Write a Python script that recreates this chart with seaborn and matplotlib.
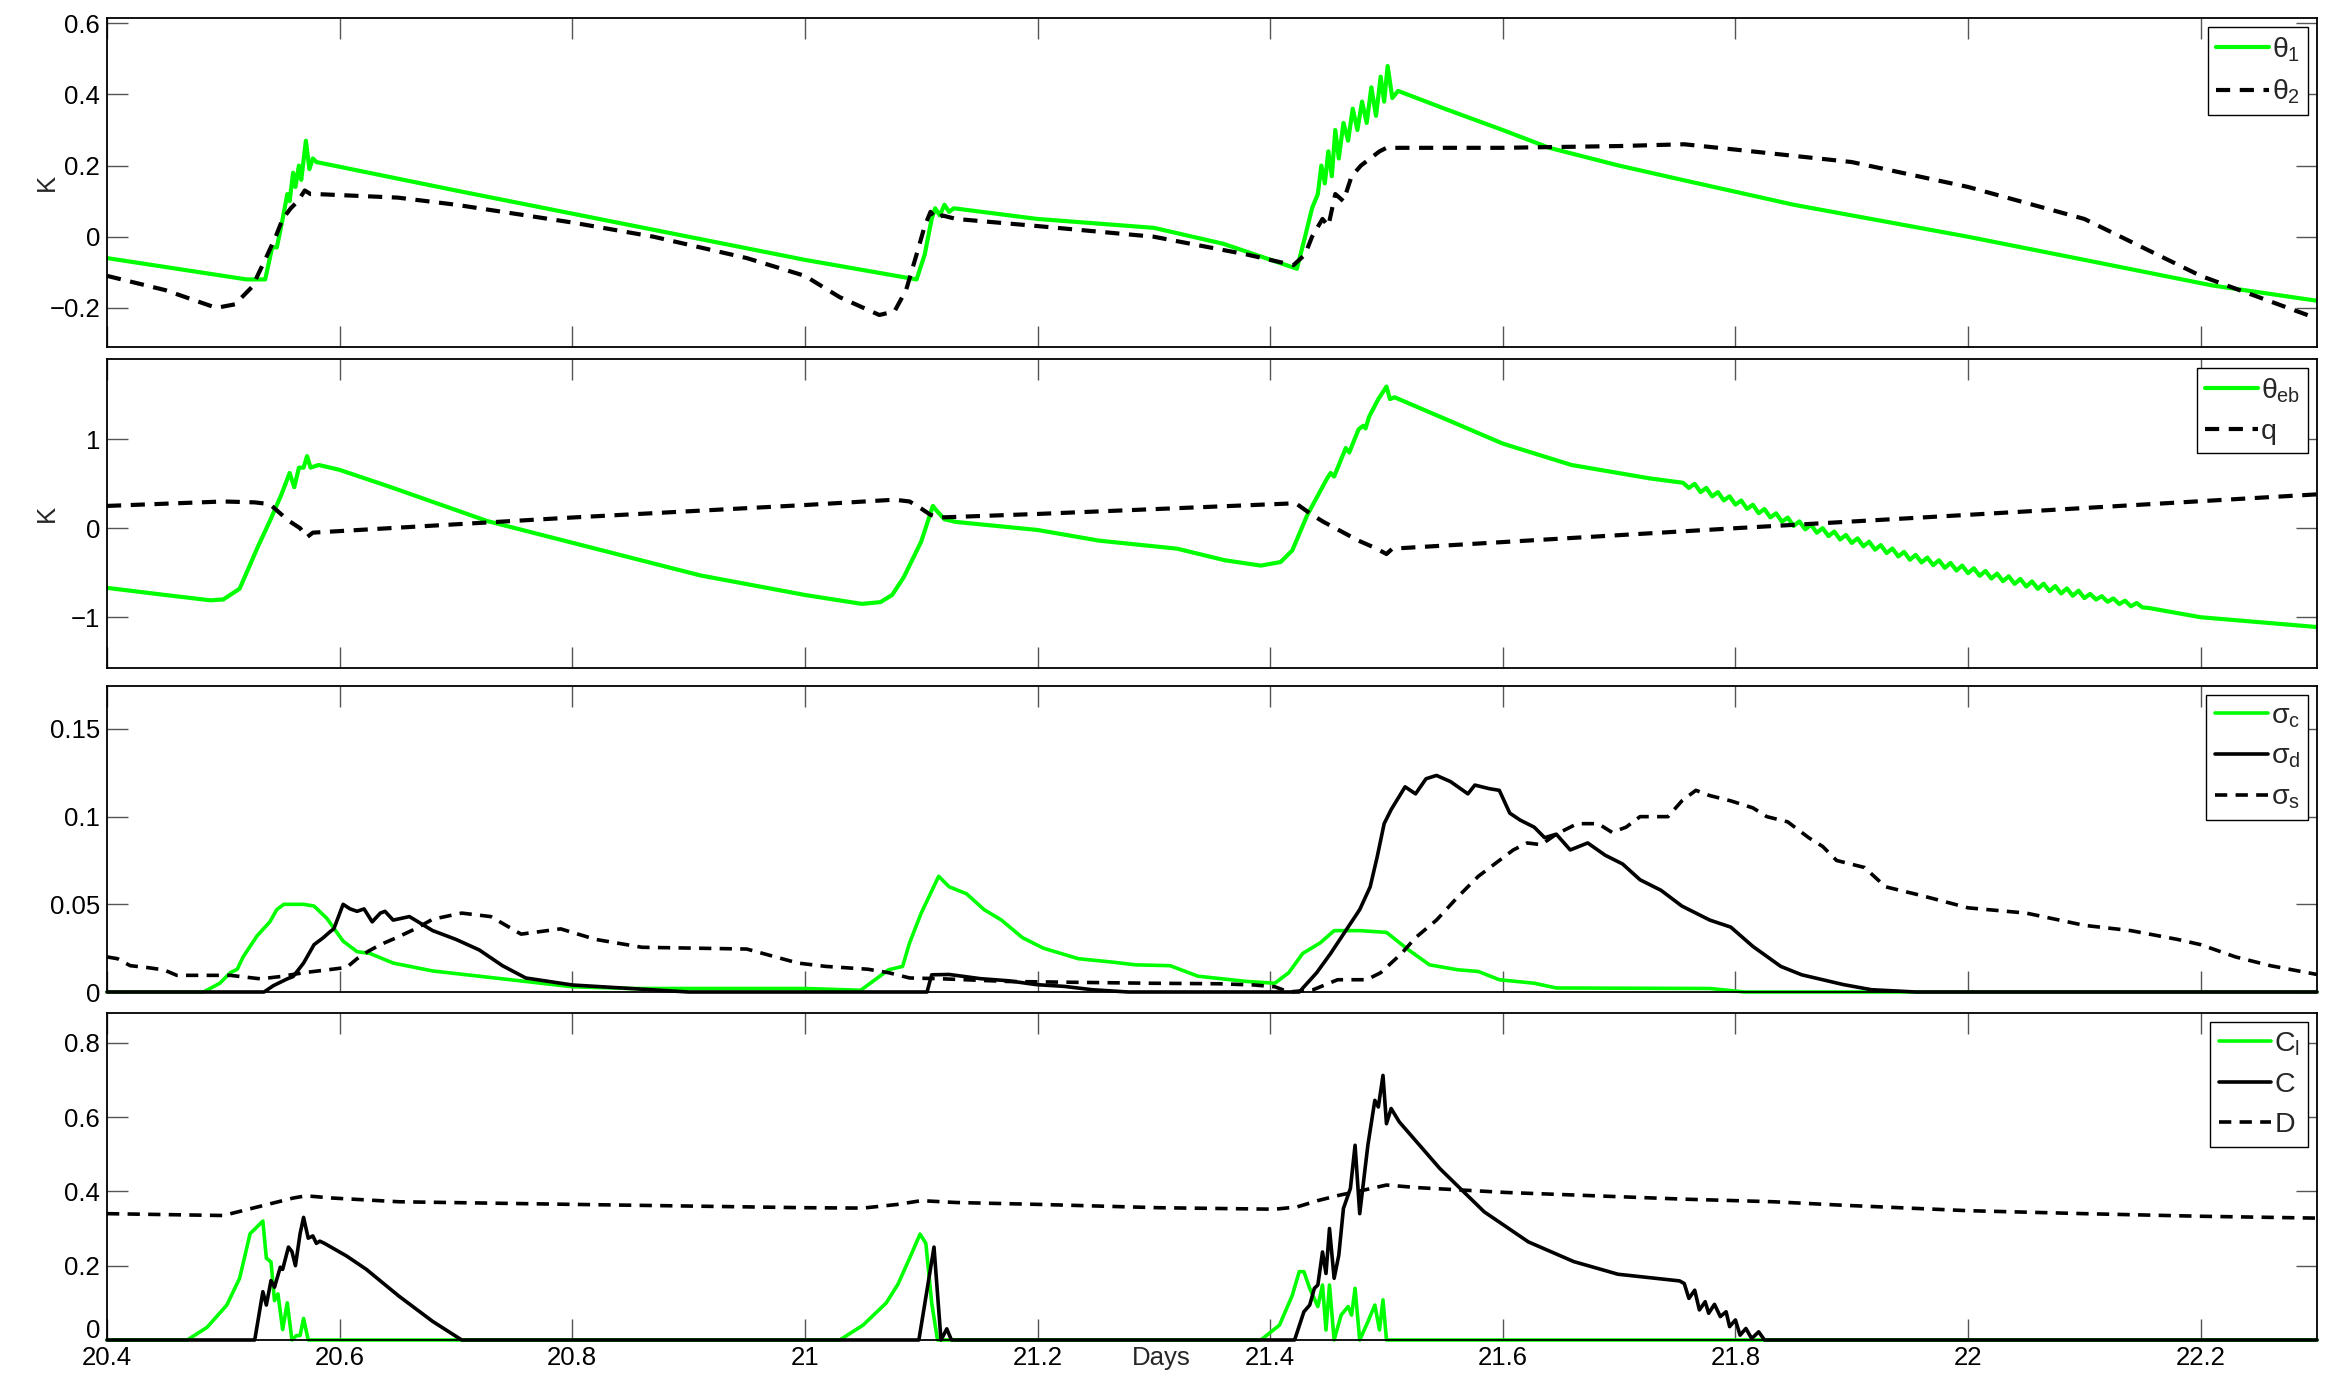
import matplotlib
matplotlib.use("Agg")
import matplotlib.pyplot as plt
import seaborn as sns
from matplotlib.ticker import FixedLocator, FuncFormatter
from matplotlib.transforms import ScaledTranslation

# ---------------- data (days, values) ----------------
th1_t = [20.40, 20.45, 20.50, 20.52, 20.536, 20.542, 20.546, 20.551, 20.555, 20.557, 20.560, 20.562, 20.565, 20.567, 20.571, 20.574, 20.577, 20.58,
         20.7, 20.8, 20.9, 21.0, 21.096,
         21.103, 21.109, 21.112, 21.116, 21.12, 21.124, 21.128, 21.2, 21.3, 21.36, 21.423,
         21.43, 21.436, 21.441, 21.444, 21.447, 21.45, 21.453, 21.456, 21.459, 21.463, 21.467, 21.471, 21.475, 21.479, 21.483, 21.487, 21.491, 21.495, 21.498, 21.501, 21.505, 21.51,
         21.55, 21.6, 21.64, 21.7, 21.754, 21.85, 22.0, 22.1, 22.21, 22.3]
th1 = [-0.06, -0.085, -0.11, -0.12, -0.12, -0.03, -0.03, 0.05, 0.12, 0.10, 0.18, 0.14, 0.20, 0.16, 0.27, 0.19, 0.22, 0.21,
       0.13, 0.065, 0.0, -0.065, -0.12,
       -0.05, 0.05, 0.08, 0.06, 0.09, 0.07, 0.08, 0.05, 0.025, -0.02, -0.09,
       0.0, 0.08, 0.12, 0.20, 0.15, 0.24, 0.17, 0.30, 0.22, 0.32, 0.27, 0.36, 0.30, 0.38, 0.32, 0.42, 0.34, 0.45, 0.38, 0.48, 0.39, 0.41,
       0.36, 0.30, 0.25, 0.20, 0.16, 0.09, 0.0, -0.065, -0.137, -0.18]

th2_t = [20.40, 20.45, 20.494, 20.51, 20.525, 20.538, 20.545, 20.551, 20.558, 20.564, 20.57, 20.575, 20.58,
         20.65, 20.7, 20.8, 20.87, 20.95, 21.0, 21.03, 21.064, 21.077,
         21.087, 21.096, 21.103, 21.108, 21.113, 21.118, 21.13, 21.2, 21.3, 21.38, 21.42,
         21.43, 21.436, 21.445, 21.45, 21.456, 21.463, 21.47, 21.478, 21.486, 21.494, 21.5,
         21.6, 21.7, 21.756, 21.8, 21.9, 22.0, 22.1, 22.2, 22.3]
th2 = [-0.11, -0.15, -0.20, -0.19, -0.14, -0.05, 0.0, 0.05, 0.08, 0.10, 0.13, 0.12, 0.12,
       0.11, 0.09, 0.04, 0.0, -0.06, -0.11, -0.17, -0.22, -0.21,
       -0.15, -0.05, 0.03, 0.07, 0.05, 0.06, 0.05, 0.03, 0.0, -0.05, -0.08,
       -0.05, 0.0, 0.05, 0.03, 0.12, 0.10, 0.17, 0.20, 0.22, 0.24, 0.25,
       0.25, 0.255, 0.26, 0.245, 0.21, 0.14, 0.05, -0.11, -0.23]

theb_t = [20.40, 20.45, 20.489, 20.50, 20.514, 20.52, 20.53, 20.54, 20.55, 20.557, 20.561, 20.565, 20.569, 20.572, 20.575, 20.582,
          20.6, 20.642, 20.727, 20.91, 21.0, 21.049, 21.065, 21.075, 21.085, 21.1, 21.11, 21.113, 21.12, 21.13,
          21.2, 21.253, 21.32, 21.361, 21.392, 21.409, 21.419, 21.432, 21.449, 21.452, 21.455, 21.465, 21.468, 21.476, 21.48, 21.482, 21.485, 21.493, 21.5, 21.503, 21.507,
          21.557, 21.6, 21.659, 21.726]
theb = [-0.67, -0.75, -0.81, -0.80, -0.68, -0.50, -0.20, 0.08, 0.38, 0.62, 0.46, 0.68, 0.68, 0.81, 0.68, 0.71,
        0.655, 0.47, 0.08, -0.53, -0.75, -0.85, -0.83, -0.75, -0.55, -0.15, 0.25, 0.20, 0.10, 0.07,
        -0.02, -0.14, -0.23, -0.36, -0.42, -0.38, -0.25, 0.15, 0.56, 0.62, 0.58, 0.90, 0.85, 1.11, 1.15, 1.12, 1.25, 1.45, 1.59, 1.45, 1.47,
        1.19, 0.95, 0.71, 0.56]
# oscillating stretch of theta_eb
theb_zt = [21.755, 21.760, 21.765, 21.770, 21.775, 21.780, 21.785, 21.790, 21.795, 21.800,
           21.805, 21.810, 21.815, 21.820, 21.825, 21.830, 21.835, 21.840, 21.845, 21.850,
           21.855, 21.860, 21.865, 21.870, 21.875, 21.880, 21.885, 21.890, 21.895, 21.900,
           21.905, 21.910, 21.915, 21.920, 21.925, 21.930, 21.935, 21.940, 21.945, 21.950,
           21.955, 21.960, 21.965, 21.970, 21.975, 21.980, 21.985, 21.990, 21.995, 22.000,
           22.005, 22.010, 22.015, 22.020, 22.025, 22.030, 22.035, 22.040, 22.045, 22.050,
           22.055, 22.060, 22.065, 22.070, 22.075, 22.080, 22.085, 22.090, 22.095, 22.100,
           22.105, 22.110, 22.115, 22.120, 22.125, 22.130, 22.135, 22.140, 22.145, 22.150,
           22.155, 22.2, 22.25, 22.3]
theb_z = [0.51, 0.452, 0.498, 0.405, 0.452, 0.358, 0.405, 0.312, 0.358, 0.265,
          0.311, 0.217, 0.263, 0.169, 0.215, 0.121, 0.167, 0.073, 0.119, 0.025,
          0.076, -0.013, 0.038, -0.051, 0.0, -0.089, -0.038, -0.127, -0.076, -0.165,
          -0.114, -0.203, -0.152, -0.241, -0.19, -0.279, -0.228, -0.317, -0.266, -0.355,
          -0.30, -0.385, -0.33, -0.415, -0.36, -0.445, -0.39, -0.475, -0.42, -0.505,
          -0.45, -0.535, -0.48, -0.565, -0.51, -0.595, -0.54, -0.625, -0.57, -0.655,
          -0.598, -0.681, -0.624, -0.707, -0.65, -0.733, -0.676, -0.759, -0.702, -0.785,
          -0.738, -0.801, -0.764, -0.826, -0.789, -0.852, -0.814, -0.877, -0.84, -0.89,
          -0.895, -1.0, -1.055, -1.11]

q_t = [20.40, 20.5, 20.527, 20.54, 20.546, 20.556, 20.566, 20.572, 20.577,
       20.8, 21.0, 21.077, 21.09, 21.1, 21.108, 21.115, 21.2, 21.422,
       21.436, 21.446, 21.456, 21.466, 21.476, 21.49, 21.5, 21.505,
       21.8, 22.0, 22.3]
q = [0.25, 0.30, 0.29, 0.27, 0.20, 0.085, 0.0, -0.10, -0.05,
     0.12, 0.26, 0.32, 0.30, 0.22, 0.15, 0.12, 0.16, 0.28,
     0.15, 0.07, 0.0, -0.07, -0.14, -0.22, -0.29, -0.23,
     0.0, 0.15, 0.38]

sc_t = [20.40, 20.483, 20.497, 20.506, 20.512, 20.517, 20.529, 20.54, 20.546, 20.552, 20.569, 20.578, 20.589, 20.603, 20.615, 20.626, 20.646,
        20.68, 20.72, 20.76, 20.8, 20.85, 21.0, 21.048, 21.072, 21.084, 21.09, 21.1, 21.115, 21.124, 21.139, 21.154, 21.169, 21.187, 21.205,
        21.235, 21.265, 21.284, 21.314, 21.338, 21.38, 21.404, 21.416, 21.428, 21.443, 21.455, 21.477, 21.5, 21.519, 21.537, 21.561, 21.579,
        21.597, 21.627, 21.646, 21.778, 21.808, 22.3]
sc = [0.0, 0.0, 0.005, 0.011, 0.013, 0.02, 0.032, 0.04, 0.047, 0.05, 0.05, 0.049, 0.042, 0.029, 0.023, 0.022, 0.0165,
      0.012, 0.009, 0.006, 0.003, 0.002, 0.002, 0.001, 0.0127, 0.0146, 0.028, 0.045, 0.066, 0.06, 0.056, 0.047, 0.041, 0.031, 0.025,
      0.019, 0.017, 0.0155, 0.015, 0.009, 0.006, 0.005, 0.011, 0.022, 0.028, 0.035, 0.035, 0.034, 0.024, 0.0155, 0.0127, 0.0117,
      0.007, 0.005, 0.0023, 0.002, 0.0, 0.0]

sd_t = [20.40, 20.535, 20.543, 20.555, 20.56, 20.569, 20.578, 20.586, 20.592, 20.595, 20.603, 20.609, 20.615, 20.621, 20.628, 20.635, 20.639, 20.646,
        20.66, 20.68, 20.7, 20.72, 20.74, 20.76, 20.8, 20.85, 20.9,
        21.105, 21.109, 21.124, 21.151, 21.175, 21.199, 21.223, 21.247, 21.278,
        21.425, 21.44, 21.452, 21.462, 21.471, 21.477, 21.486, 21.492, 21.498, 21.504, 21.516, 21.525, 21.534, 21.543, 21.555, 21.57, 21.576,
        21.588, 21.597, 21.606, 21.615, 21.627, 21.636, 21.646, 21.658, 21.673, 21.688, 21.703, 21.718, 21.736, 21.754, 21.778, 21.796,
        21.815, 21.839, 21.857, 21.875, 21.893, 21.917, 21.955, 22.3]
sd = [0.0, 0.0, 0.0036, 0.0075, 0.0088, 0.0165, 0.027, 0.031, 0.0345, 0.036, 0.05, 0.0474, 0.046, 0.0474, 0.04, 0.045, 0.046, 0.041,
      0.043, 0.035, 0.03, 0.024, 0.015, 0.008, 0.004, 0.002, 0.0,
      0.0, 0.0098, 0.010, 0.0076, 0.0064, 0.0042, 0.0032, 0.0013, 0.0,
      0.0, 0.011, 0.022, 0.032, 0.041, 0.047, 0.06, 0.077, 0.096, 0.104, 0.117, 0.113, 0.1216, 0.1235, 0.12, 0.113, 0.118,
      0.116, 0.115, 0.102, 0.098, 0.094, 0.088, 0.09, 0.081, 0.085, 0.078, 0.073, 0.064, 0.058, 0.049, 0.041, 0.037,
      0.026, 0.0146, 0.0098, 0.007, 0.0042, 0.0013, 0.0, 0.0]

ss_t = [20.40, 20.409, 20.42, 20.434, 20.449, 20.46, 20.506, 20.532, 20.549, 20.569, 20.589, 20.606, 20.615, 20.624, 20.635, 20.649,
        20.665, 20.68, 20.705, 20.73, 20.756, 20.79, 20.82, 20.86, 20.95, 20.994, 21.018, 21.054, 21.072, 21.09, 21.115, 21.175,
        21.235, 21.296, 21.356, 21.386, 21.404, 21.416, 21.437, 21.458, 21.483, 21.495, 21.513, 21.525, 21.543, 21.561, 21.579, 21.597,
        21.609, 21.621, 21.633, 21.646, 21.664, 21.682, 21.694, 21.706, 21.718, 21.742, 21.754, 21.766, 21.778, 21.796, 21.815, 21.827,
        21.845, 21.863, 21.875, 21.887, 21.911, 21.929, 21.96, 22.0, 22.05, 22.1, 22.14, 22.18, 22.2, 22.23, 22.26, 22.3]
ss = [0.02, 0.019, 0.015, 0.014, 0.0126, 0.0095, 0.0095, 0.0075, 0.0088, 0.011, 0.0126, 0.014, 0.019, 0.023, 0.027, 0.031,
      0.036, 0.0415, 0.045, 0.043, 0.033, 0.036, 0.03, 0.0255, 0.0245, 0.0165, 0.0146, 0.013, 0.011, 0.008, 0.0076, 0.006,
      0.0055, 0.005, 0.0047, 0.004, 0.003, 0.0, 0.0013, 0.007, 0.007, 0.011, 0.022, 0.031, 0.041, 0.054, 0.066, 0.075,
      0.081, 0.085, 0.084, 0.09, 0.096, 0.096, 0.091, 0.094, 0.1, 0.1, 0.109, 0.115, 0.112, 0.109, 0.105, 0.1,
      0.097, 0.088, 0.083, 0.075, 0.071, 0.06, 0.055, 0.048, 0.045, 0.038, 0.035, 0.03, 0.027, 0.02, 0.015, 0.01]

cl_t = [20.40, 20.469, 20.486, 20.503, 20.514, 20.523, 20.534, 20.537, 20.541, 20.544, 20.547, 20.551, 20.555, 20.559, 20.563, 20.566, 20.569, 20.573,
        21.03, 21.05, 21.07, 21.08, 21.09, 21.099, 21.104, 21.109, 21.114,
        21.392, 21.408, 21.419, 21.425, 21.429, 21.434, 21.441, 21.445, 21.448, 21.451, 21.455, 21.461, 21.467, 21.47, 21.473, 21.477,
        21.484, 21.49, 21.494, 21.497, 21.5, 22.3]
cl = [0.0, 0.0, 0.034, 0.094, 0.166, 0.286, 0.32, 0.22, 0.21, 0.106, 0.124, 0.028, 0.1, 0.0, 0.012, 0.012, 0.058, 0.0,
      0.0, 0.04, 0.1, 0.15, 0.22, 0.285, 0.26, 0.1, 0.0,
      0.0, 0.04, 0.12, 0.184, 0.184, 0.139, 0.09, 0.148, 0.027, 0.148, 0.0, 0.067, 0.09, 0.067, 0.139, 0.0,
      0.049, 0.094, 0.027, 0.108, 0.0, 0.0]

c_t = [20.40, 20.527, 20.534, 20.537, 20.541, 20.544, 20.549, 20.551, 20.556, 20.559, 20.562, 20.566, 20.569, 20.573, 20.577, 20.58, 20.583, 20.587,
       20.606, 20.623, 20.651, 20.68, 20.69, 20.695, 20.7, 20.705,
       21.098, 21.111, 21.117, 21.122, 21.126, 21.13,
       21.421, 21.429, 21.434, 21.438, 21.441, 21.445, 21.448, 21.451, 21.455, 21.459, 21.463, 21.469, 21.473, 21.477, 21.484, 21.49,
       21.493, 21.497, 21.5, 21.504, 21.511, 21.546, 21.584, 21.622, 21.661, 21.699, 21.752,
       21.756, 21.760, 21.765, 21.769, 21.774, 21.777, 21.782, 21.787, 21.792, 21.795, 21.800, 21.804, 21.809, 21.814, 21.820, 21.825, 22.3]
c = [0.0, 0.0, 0.13, 0.094, 0.16, 0.142, 0.196, 0.19, 0.25, 0.238, 0.2, 0.286, 0.33, 0.274, 0.28, 0.26, 0.266, 0.26,
     0.226, 0.19, 0.118, 0.05, 0.03, 0.02, 0.01, 0.0,
     0.0, 0.25, 0.0, 0.03, 0.0, 0.0,
     0.0, 0.076, 0.094, 0.139, 0.148, 0.237, 0.179, 0.3, 0.166, 0.228, 0.354, 0.408, 0.524, 0.34, 0.524, 0.645,
     0.627, 0.712, 0.582, 0.623, 0.587, 0.461, 0.345, 0.264, 0.211, 0.177, 0.159,
     0.152, 0.112, 0.134, 0.081, 0.103, 0.072, 0.096, 0.063, 0.076, 0.036, 0.054, 0.013, 0.031, 0.004, 0.022, 0.0, 0.0]

d_t = [20.40, 20.5, 20.514, 20.537, 20.56, 20.571, 20.594, 20.651, 20.8, 21.0, 21.05, 21.08, 21.1, 21.13, 21.2, 21.304,
       21.404, 21.423, 21.442, 21.46, 21.48, 21.5, 21.527, 21.603, 21.68, 21.756, 21.833, 21.89, 22.0, 22.1, 22.2, 22.3]
d = [0.34, 0.335, 0.346, 0.364, 0.382, 0.388, 0.382, 0.372, 0.365, 0.356, 0.355, 0.365, 0.375, 0.37, 0.365, 0.356,
     0.352, 0.358, 0.376, 0.39, 0.403, 0.417, 0.41, 0.397, 0.388, 0.379, 0.372, 0.363, 0.348, 0.34, 0.333, 0.328]

x_ticks = [20.4, 20.6, 20.8, 21.0, 21.2, 21.4, 21.6, 21.8, 22.0, 22.2]
y_ticks = [[-0.2, 0, 0.2, 0.4, 0.6], [-1, 0, 1], [0, 0.05, 0.1, 0.15], [0, 0.2, 0.4, 0.6, 0.8]]
y_lims = [(-0.31, 0.615), (-1.57, 1.90), (0, 0.1745), (0, 0.88)]
y_labels = ["K", "K", "", ""]

# ---------------- style ----------------
sns.set_theme(style="ticks")
plt.rcParams["font.family"] = ["Liberation Sans", "DejaVu Sans"]
plt.rcParams["mathtext.fontset"] = "custom"
plt.rcParams["mathtext.rm"] = "Liberation Sans"
plt.rcParams["mathtext.it"] = "Liberation Sans"
plt.rcParams["mathtext.bf"] = "Liberation Sans:bold"
plt.rcParams["axes.unicode_minus"] = True

GREEN = "#00ff00"
DASH = (0, (3.4, 2.3))
FS = 18.5    # tick / axis labels
LFS = 20.5   # legend entries

fig = plt.figure(figsize=(23.33, 13.77), dpi=100)
W_PX, H_PX = 2333, 1377
left, width = 107 / W_PX, 2210 / W_PX
boxes = [(347, 329), (668, 309), (992, 306), (1340, 327)]  # (bottom px, height px)
axes = [fig.add_axes([left, 1 - b / H_PX, width, h / H_PX]) for b, h in boxes]


def draw(ax, t, v, label, color, ls="-", lw=3.0, clip=True):
    sns.lineplot(x=t, y=v, ax=ax, color=color, linestyle=ls, linewidth=lw,
                 label=label, estimator=None, sort=False)
    ax.lines[-1].set_clip_on(clip)


ax1, ax2, ax3, ax4 = axes
draw(ax1, th1_t, th1, r"$\theta_1$", GREEN)
draw(ax1, th2_t, th2, r"$\theta_2$", "black", DASH)

draw(ax2, theb_t + theb_zt, theb + theb_z, r"$\theta_{eb}$", GREEN)
draw(ax2, q_t, q, "q", "black", DASH)

draw(ax3, sc_t, sc, r"$\sigma_c$", GREEN, lw=2.6, clip=False)
draw(ax3, sd_t, sd, r"$\sigma_d$", "black", lw=2.6, clip=False)
draw(ax3, ss_t, ss, r"$\sigma_s$", "black", DASH, lw=2.6, clip=False)

draw(ax4, cl_t, cl, r"$C_l$", GREEN, lw=2.6, clip=False)
draw(ax4, c_t, c, "C", "black", lw=2.6, clip=False)
draw(ax4, d_t, d, "D", "black", DASH, lw=2.6, clip=False)

fmt = FuncFormatter(lambda v, p: f"{round(v, 4):g}".replace("-", "\u2212"))

for i, ax in enumerate(axes):
    ax.set_xlim(20.4, 22.3)
    ax.set_ylim(*y_lims[i])
    ax.xaxis.set_major_locator(FixedLocator(x_ticks))
    ax.yaxis.set_major_locator(FixedLocator(y_ticks[i]))
    ax.xaxis.set_major_formatter(fmt)
    ax.yaxis.set_major_formatter(fmt)
    ax.tick_params(axis="both", which="major", direction="in", length=15, width=1.0,
                   color="#555555", top=True, right=True, labelsize=FS, pad=5,
                   labelcolor="black")
    ax.tick_params(axis="x", labelbottom=(i == 3), pad=4.5)
    for sp in ax.spines.values():
        sp.set_linewidth(1.3)
        sp.set_color("black")
    ax.set_xlabel("")
    ax.set_ylabel(y_labels[i], fontsize=FS)
    ax.yaxis.set_label_coords(-0.022, 0.5)
    leg = ax.legend(loc="upper right", fontsize=LFS, frameon=True, fancybox=False,
                    edgecolor="black", framealpha=1, handlelength=1.85,
                    handletextpad=0.1, borderpad=0.3, labelspacing=0.5,
                    borderaxespad=0.3)
    leg.get_frame().set_linewidth(1.0)

ax4.set_xlabel("Days", fontsize=FS)
ax4.xaxis.set_label_coords(0.477, -0.019)
ax4.xaxis.label.set_va("top")

# lift the bottom-left "0" a little so it clears the "20.4" below it
zero_tick = ax4.yaxis.get_major_ticks()[0]
zero_tick.label1.set_transform(zero_tick.label1.get_transform()
                               + ScaledTranslation(0, 11 / 100, fig.dpi_scale_trans))

fig.savefig("out.png", dpi=100)
